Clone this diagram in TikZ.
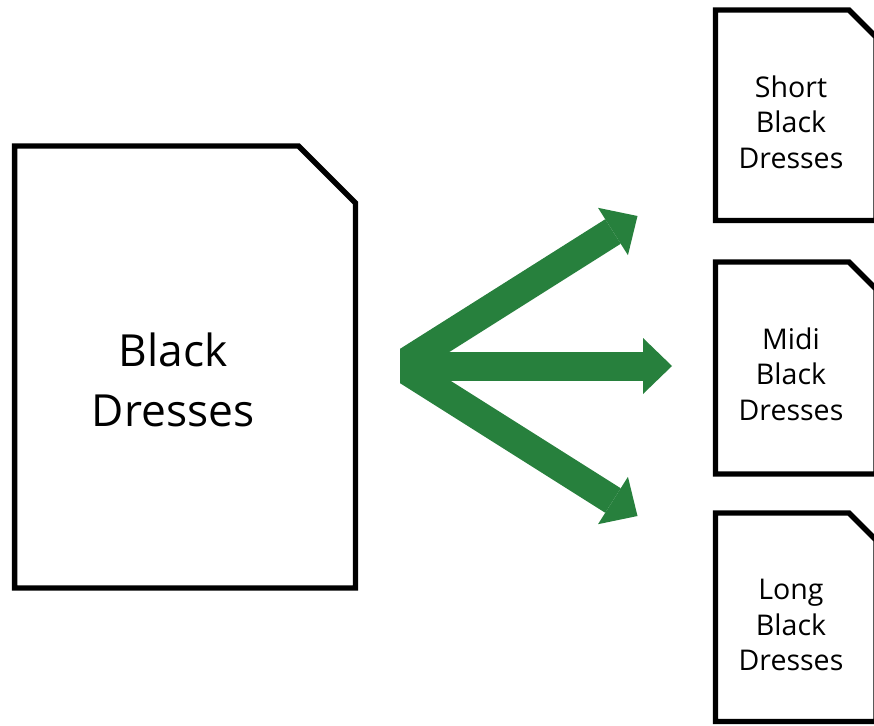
\documentclass[tikz,border=0pt]{standalone}
\usepackage{fontspec}
\setmainfont{Open Sans}
\usetikzlibrary{arrows.meta,calc}
\definecolor{flowgreen}{RGB}{39,128,61}
\begin{document}
\begin{tikzpicture}[x=0.75pt,y=-0.75pt,
  doc/.style={draw=black,line width=4.1pt,line join=miter,fill=white},
  bigtext/.style={align=center,font=\fontsize{33.2pt}{44.5pt}\selectfont},
  smalltext/.style={align=center,font=\fontsize{21.4pt}{26.5pt}\selectfont},
  flow/.style={draw=flowgreen,line width=21.75pt,line cap=butt,
    -{Triangle[length=21.75pt,width=42pt,line width=0pt]}}]
\useasboundingbox[fill=white] (0,0) rectangle (874,725);

% source document
\draw[doc] (14.7,146) -- (298.5,146) -- (355.5,203) -- (355.5,588) -- (14.7,588) -- cycle;
\node[bigtext] (src) at (173,380) {Black\\Dresses};

% target documents (cut off at the right border)
\draw[doc] (715.5,10) -- (849,10) -- (876,37) -- (876,220.5) -- (715.5,220.5) -- cycle;
\node[smalltext] (short) at (791,122) {Short\\Black\\Dresses};

\draw[doc] (715.5,262) -- (849,262) -- (876,289) -- (876,474) -- (715.5,474) -- cycle;
\node[smalltext] (midi) at (791,374) {Midi\\Black\\Dresses};

\draw[doc] (715.5,513) -- (849,513) -- (876,540) -- (876,721.5) -- (715.5,721.5) -- cycle;
\node[smalltext] (long) at (791,625) {Long\\Black\\Dresses};

% fan of arrows
\coordinate (hub) at (400,366);
\coordinate (tipS) at (637.5,216);
\coordinate (tipM) at (672,366);
\coordinate (tipL) at (637.5,516);
\coordinate (hubS) at ($(hub)!-20pt!(tipS)$);
\coordinate (hubM) at ($(hub)!-20pt!(tipM)$);
\coordinate (hubL) at ($(hub)!-20pt!(tipL)$);
\begin{scope}
  \clip (400,0) rectangle (874,725);
  \draw[flow] (hubS) -- (tipS);
  \draw[flow] (hubL) -- (tipL);
  \draw[flow] (hubM) -- (tipM);
\end{scope}
\end{tikzpicture}
\end{document}
